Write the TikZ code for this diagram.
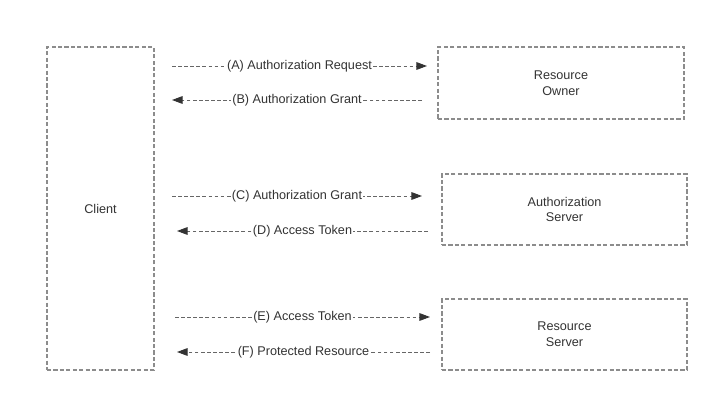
\documentclass[tikz,border=0pt]{standalone}
\usepackage{fontspec}
\setmainfont{Liberation Sans}
\usetikzlibrary{arrows.meta}

\begin{document}
\begin{tikzpicture}[x=0.03cm, y=-0.03cm]

% Define Colors
\definecolor{BoxColor}{HTML}{8C8C8C}
\definecolor{FlowColor}{HTML}{666666}
\definecolor{TipColor}{HTML}{333333}
\definecolor{TextColor}{HTML}{333333}

\tikzset{
  party/.style={draw=BoxColor, dash pattern=on 3.5pt off 2pt, line width=1pt,
    text=TextColor, align=center, font=\fontsize{10.8}{13.6}\selectfont, inner sep=0pt},
  flow/.style={draw=FlowColor, dash pattern=on 3.2pt off 2pt, line width=0.8pt,
    -{Triangle[length=9pt, width=6.5pt, color=TipColor]}},
  flowlbl/.style={fill=white, text=TextColor, inner sep=1pt, font=\fontsize{10.8}{13.6}\selectfont}
}

\useasboundingbox (0,0) rectangle (719,402);

% Boxes
\node[party, minimum width=3.21cm, minimum height=9.69cm] (client) at (100.5,208.5) {Client};
\node[party, minimum width=7.38cm, minimum height=2.16cm] (owner) at (561,83) {Resource\\Owner};
\node[party, minimum width=7.35cm, minimum height=2.13cm] (authsrv) at (564.5,209.5) {Authorization\\Server};
\node[party, minimum width=7.35cm, minimum height=2.13cm] (ressrv) at (564.5,334.5) {Resource\\Server};

% Flows (name/y/from x/to x/label)
\foreach \n/\y/\xa/\xb/\lbl in {
  a/66/172/427/{(A) Authorization Request},
  b/100/422/172/{(B) Authorization Grant},
  c/196/172/422/{(C) Authorization Grant},
  d/231/428/177/{(D) Access Token},
  e/317/175/430/{(E) Access Token},
  f/352/430/177/{(F) Protected Resource}%
} {
  \coordinate (\n-from) at (\xa,\y);
  \coordinate (\n-to) at (\xb,\y);
  \draw[flow] (\n-from) -- node[flowlbl] (\n-lbl) {\lbl} (\n-to);
}

\end{tikzpicture}
\end{document}
